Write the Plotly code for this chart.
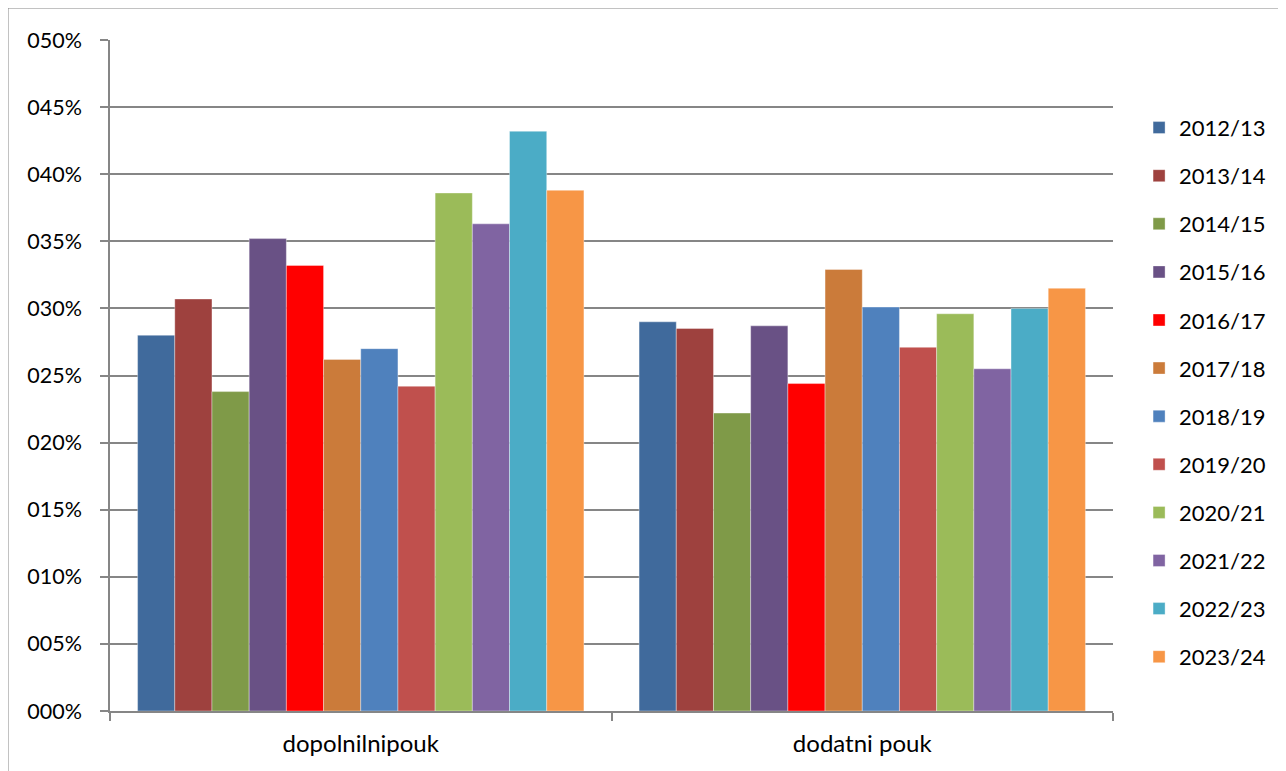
import plotly.graph_objects as go

categories = ["dopolnilnipouk", "dodatni pouk"]
years = ["2012/13", "2013/14", "2014/15", "2015/16", "2016/17", "2017/18",
         "2018/19", "2019/20", "2020/21", "2021/22", "2022/23", "2023/24"]
dopolnilni = [0.280, 0.307, 0.238, 0.352, 0.332, 0.262, 0.270, 0.242, 0.386, 0.363, 0.432, 0.388]
dodatni = [0.290, 0.285, 0.222, 0.287, 0.244, 0.329, 0.301, 0.271, 0.296, 0.255, 0.300, 0.315]
colors = ["#406A9C", "#9E413E", "#7F9A48", "#695185", "#FF0000", "#CB7B3A",
          "#4F81BD", "#C0504D", "#9BBB59", "#8064A2", "#4BACC6", "#F79646"]
tick_vals = [0, 0.05, 0.10, 0.15, 0.20, 0.25, 0.30, 0.35, 0.40, 0.45, 0.50]

fig = go.Figure()
for i, y in enumerate(years):
    fig.add_trace(go.Bar(
        name=y, x=categories, y=[dopolnilni[i], dodatni[i]],
        marker=dict(color=colors[i], line=dict(width=0.6, color="rgba(255,255,255,0.6)")),
        legendgroup=y,
    ))

FONT = "Lato, Carlito, 'Open Sans', sans-serif"
W, H = 1278, 763
ML, MT, PW, PH = 102, 32, 1003, 671
fig.update_layout(
    width=W, height=H,
    barmode="group", bargap=0.11, bargroupgap=0,
    plot_bgcolor="white", paper_bgcolor="white",
    margin=dict(l=ML, r=W - ML - PW, t=MT, b=H - MT - PH, autoexpand=False),
    font=dict(family=FONT, size=21.5, color="#000000"),
    legend=dict(x=1.026, y=0.475, xanchor="left", yanchor="middle",
                font=dict(family=FONT, size=22, color="#000000"),
                tracegroupgap=16.5, bgcolor="rgba(0,0,0,0)"),
    xaxis=dict(showline=True, linecolor="#868686", linewidth=1.5,
               ticks="outside", tickson="boundaries", ticklen=8,
               tickcolor="#868686", tickwidth=1.5, showgrid=False,
               ticklabelstandoff=10,
               tickfont=dict(family=FONT, size=24)),
    yaxis=dict(range=[0, 0.5], tickvals=tick_vals, tickformat="04.0%",
               showgrid=True, gridcolor="#868686", gridwidth=1.5,
               showline=True, linecolor="#868686", linewidth=1.5,
               ticks="outside", ticklen=8, tickcolor="#868686", tickwidth=1.5,
               ticklabelstandoff=14, zeroline=False,
               tickfont=dict(family=FONT, size=21.5)),
    shapes=[dict(type="rect", xref="paper", yref="paper",
                 x0=-ML / PW, x1=1.3, y0=-0.3, y1=1 + MT / PH,
                 line=dict(color="#868686", width=1), layer="below")],
)

fig.write_html("out.html")
